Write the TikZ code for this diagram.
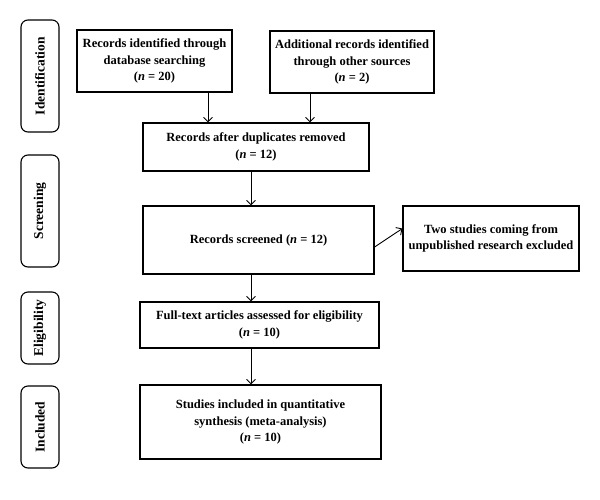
\documentclass[tikz,border=0pt]{standalone}
\usepackage{fontspec}
\setmainfont{Liberation Serif}
\usetikzlibrary{arrows.meta}
\tikzset{
	flowbox/.style={draw, line width=1.1pt, align=center, inner sep=0pt, font=\fontsize{12.5}{16.5}\selectfont\bfseries},
	phasebox/.style={draw, rounded corners=7pt, line width=1.1pt, rotate=90, minimum height=38pt, inner sep=0pt, font=\fontsize{13.5}{15}\selectfont\bfseries},
	flowarrow/.style={-{Straight Barb[length=4.5pt,width=9pt]}, line width=0.9pt}
}
\newcommand{\nval}[1]{(\textit{n} = #1)}
\begin{document}
\begin{tikzpicture}[x=1pt, y=-1pt]
		\useasboundingbox (0, 0) rectangle (600, 499);
		% phases on the left
		\node[phasebox, minimum width=112pt] (ident) at (40, 76) {Identification};
		\node[phasebox, minimum width=112pt] (screen) at (40, 211) {Screening};
		\node[phasebox, minimum width=72pt] (elig) at (40, 328) {Eligibility};
		\node[phasebox, minimum width=82pt] (incl) at (40, 427) {Included};
		% flow boxes
		\node[flowbox, minimum width=155pt, minimum height=62pt] (database) at (154.5, 61) {Records identified through\\database searching\\\nval{20}};
		\node[flowbox, minimum width=164pt, minimum height=62pt] (other) at (352, 62) {Additional records identified\\through other sources\\\nval{2}};
		\node[flowbox, minimum width=226pt, minimum height=48pt] (dupl) at (256, 147) {Records after duplicates removed\\\nval{12}};
		\node[flowbox, minimum width=231pt, minimum height=68pt] (screened) at (258.5, 240) {Records screened \nval{12}};
		\node[flowbox, minimum width=176pt, minimum height=65pt] (excluded) at (491, 238.5) {Two studies coming from\\unpublished research excluded};
		\node[flowbox, minimum width=239pt, minimum height=46pt] (fulltext) at (259.5, 325) {Full-text articles assessed for eligibility\\\nval{10}};
		\node[flowbox, minimum width=241pt, minimum height=74pt] (included) at (260.5, 422) {Studies included in quantitative\\synthesis (meta-analysis)\\\nval{10}};
		% arrows
		\draw[flowarrow] ([xshift=53.5pt]database.south) -- ([xshift=53.5pt]database.south |- dupl.north);
		\draw[flowarrow] ([xshift=-42pt]other.south) -- ([xshift=-42pt]other.south |- dupl.north);
		\draw[flowarrow] ([xshift=-5pt]dupl.south) -- ([xshift=-5pt]dupl.south |- screened.north);
		\draw[flowarrow] ([yshift=-7pt]screened.east) -- ([yshift=10pt]excluded.west);
		\draw[flowarrow] ([xshift=-7.5pt]screened.south) -- ([xshift=-7.5pt]screened.south |- fulltext.north);
		\draw[flowarrow] ([xshift=-8.5pt]fulltext.south) -- ([xshift=-8.5pt]fulltext.south |- included.north);
	\end{tikzpicture}
\end{document}
